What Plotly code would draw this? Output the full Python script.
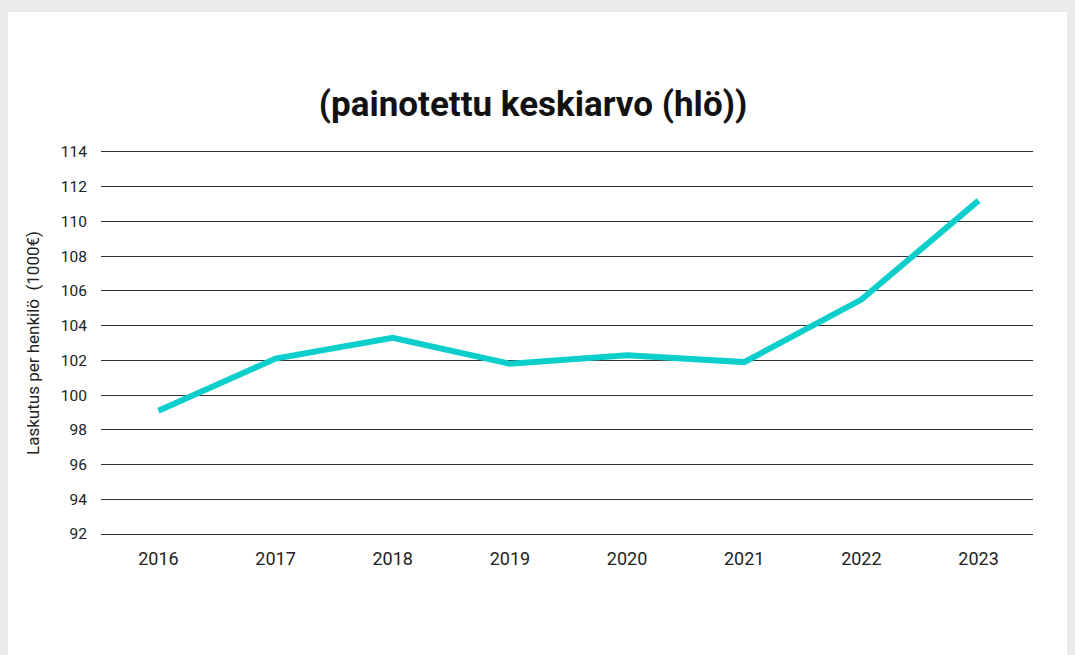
import plotly.graph_objects as go

years = ["2016", "2017", "2018", "2019", "2020", "2021", "2022", "2023"]
values = [99.1, 102.1, 103.3, 101.8, 102.3, 101.9, 105.5, 111.2]
y_ticks = list(range(92, 115, 2))

# page has an 8px body margin; figure sized to fit the 1075x655 window
W, H = 1067, 647
L, R, T, B = 93, 42, 144, 121
pw, ph = W - L - R, H - T - B

fig = go.Figure()
fig.add_trace(go.Scatter(
    x=years, y=values, mode="lines",
    line=dict(color="#0ccfcc", width=6),
    hoverinfo="x+y", showlegend=False,
))

fig.add_shape(type="rect", xref="paper", yref="paper", layer="below",
              x0=-(L + 5) / pw, x1=1.2, y0=-0.5, y1=1 + (T - 4) / ph,
              fillcolor="white", line=dict(width=0))

fig.update_layout(
    width=W, height=H,
    margin=dict(l=L, r=R, t=T, b=B),
    paper_bgcolor="#ebebeb",
    plot_bgcolor="white",
    font=dict(family="Roboto, sans-serif", color="#222222"),
    title=dict(text="<b>(painotettu keskiarvo (hlö))</b>",
               x=(525 - L) / pw, xref="paper", xanchor="center",
               y=1 - 96 / H, yanchor="middle",
               font=dict(size=35, color="#111111", family="Roboto, sans-serif")),
    xaxis=dict(type="category", range=[-0.49, 7.465], showgrid=False,
               zeroline=False, showline=True, mirror=True,
               linecolor="#333333", linewidth=1,
               ticks="outside", ticklen=8, tickcolor="rgba(0,0,0,0)",
               tickfont=dict(size=18, color="#222222")),
    yaxis=dict(range=[92, 114], tickvals=y_ticks, showgrid=True,
               gridcolor="#333333", gridwidth=1, zeroline=False, showline=False,
               ticks="outside", ticklen=10, tickcolor="rgba(0,0,0,0)",
               tickfont=dict(size=15.5, color="#222222"),
               title=dict(text="Laskutus per henkilö  (1000€)", standoff=16,
                          font=dict(size=17, color="#222222"))),
)

fig.write_html("out.html",
               post_script="document.body.style.background='#ebebeb';")
